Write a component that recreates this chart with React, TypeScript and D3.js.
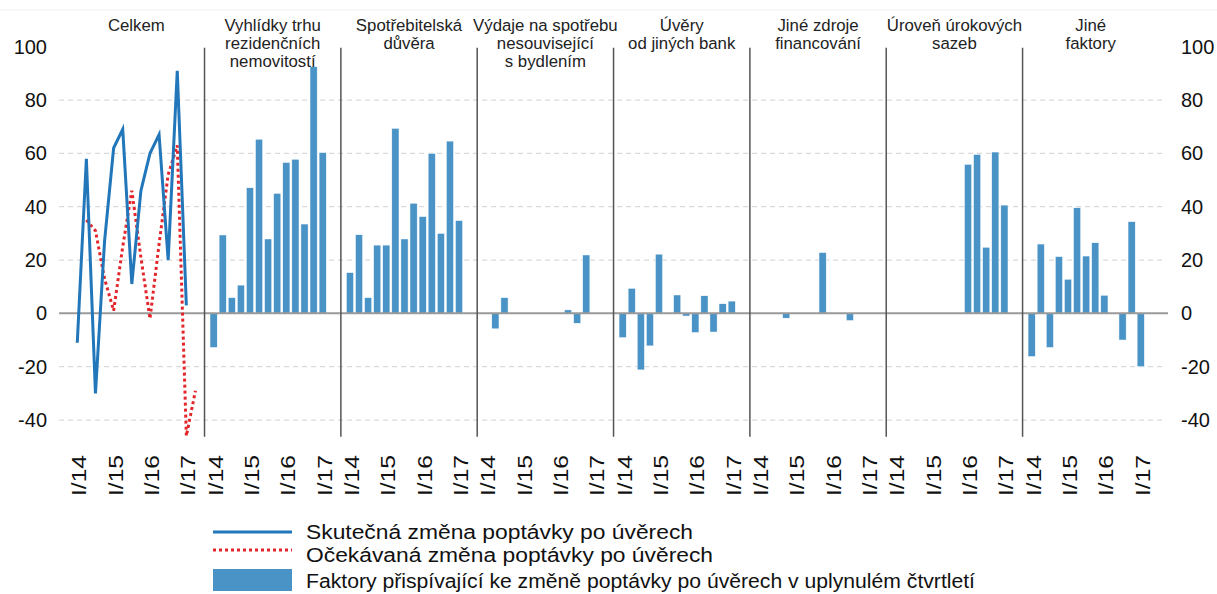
import React from 'react';
import * as d3 from 'd3';

// quarters shown in every panel (I/14 .. I/17)
const quarters = ['I/14', 'II/14', 'III/14', 'IV/14', 'I/15', 'II/15', 'III/15', 'IV/15', 'I/16', 'II/16', 'III/16', 'IV/16', 'I/17'];
const tickQuarters = ['I/14', 'I/15', 'I/16', 'I/17'];

const panelTitles = [
  ['Celkem'],
  ['Vyhlídky trhu', 'rezidenčních', 'nemovitostí'],
  ['Spotřebitelská', 'důvěra'],
  ['Výdaje na spotřebu', 'nesouvisející', 's bydlením'],
  ['Úvěry', 'od jiných bank'],
  ['Jiné zdroje', 'financování'],
  ['Úroveň úrokových', 'sazeb'],
  ['Jiné', 'faktory'],
];

// Celkem panel: actual change I/14..I/17, expected change II/14..II/17
const actualDemand = [-11, 58, -30, 27, 62, 69, 11, 46, 60, 67, 20, 91, 3];
const expectedDemand = [35, 31, 13, 1, 25, 46, 21, -2, 26, 52, 63, -46, -29];

// contributing factors, I/14..I/17
const housingOutlook = [-12.8, 29.4, 5.9, 10.6, 47.1, 65.3, 27.9, 45, 56.6, 57.8, 33.5, 92.5, 60.3];
const consumerConfidence = [15.3, 29.5, 5.9, 25.6, 25.6, 69.4, 27.9, 41.3, 36.3, 60, 30, 64.6, 34.8];
const nonHousingSpending = [0, -5.8, 5.9, 0, 0, 0, 0, 0, 0, 1.3, -3.7, 21.9, 0];
const otherBankLoans = [-9.1, 9.4, -21.2, -12.2, 22.2, 0, 6.9, -1.0, -7.2, 6.6, -7.0, 3.6, 4.6];
const otherFinancing = [0, 0, 0, -1.8, 0, 0, 0, 22.8, 0, 0, -2.7, 0, 0];
const interestRates = [0, 0, 0, 0, 0, 0, 0, 0, 55.9, 59.6, 24.8, 60.5, 40.6];
const otherFactors = [-16.2, 26, -12.8, 21.3, 12.8, 39.6, 21.5, 26.5, 6.8, 0, -10, 34.4, -20];

const factorSeries = [housingOutlook, consumerConfidence, nonHousingSpending, otherBankLoans, otherFinancing, interestRates, otherFactors];

const yTicks = [100, 80, 60, 40, 20, 0, -20, -40];
const legendLabels = [
  'Skutečná změna poptávky po úvěrech',
  'Očekávaná změna poptávky po úvěrech',
  'Faktory přispívající ke změně poptávky po úvěrech v uplynulém čtvrtletí',
];
const legendWidths = [387, 407, 669];

const W = 1217;
const H = 594;
const FONT = 'Liberation Sans, Arial, Helvetica, sans-serif';
const SLOTS_PER_PANEL = 15;
const BAR_COLOR = '#4a93c6';
const LINE_COLOR = '#2277ba';
const RED = '#e3262b';

// slot index of quarter q in panel p
const slotOf = (p: number, q: number) => p * SLOTS_PER_PANEL + 2 + q;

export default function App() {
  const x = d3.scaleLinear().domain([0, 122]).range([59.1, 1168]);
  const y = d3.scaleLinear().domain([-46.25, 100]).range([436.7, 46.7]);

  const line = d3.line<[number, number]>()
    .x(d => x(d[0]))
    .y(d => y(d[1]));

  const actualPts: [number, number][] = actualDemand.map((v, i) => [slotOf(0, i), v]);
  const expectedPts: [number, number][] = expectedDemand.map((v, i) => [slotOf(0, i + 1), v]);

  const barW = 7.2;

  return (
    <svg width={W} height={H} style={{ position: 'absolute', left: 0, top: 0, background: '#fff' }} fontFamily={FONT}>
      <line x1={0} x2={W} y1={10} y2={10} stroke="#f0f0f0" strokeWidth={1} />

      {/* gridlines */}
      {yTicks.filter(t => t !== 0 && t !== 100).map(t => (
        <line key={t} x1={x(0)} x2={x(122) - 2} y1={y(t)} y2={y(t)}
          stroke="#d9d9d9" strokeWidth={1.3} strokeDasharray="5,4" />
      ))}

      {/* bars */}
      {factorSeries.map((series, k) => series.map((v, q) => v === 0 ? null : (
        <rect key={`${k}-${q}`} x={x(slotOf(k + 1, q)) - barW / 2} width={barW}
          y={y(Math.max(0, v))} height={Math.abs(y(v) - y(0))}
          fill={BAR_COLOR} stroke="#ffffff" strokeWidth={0.5} />
      )))}

      {/* zero line */}
      <line x1={x(0)} x2={x(122)} y1={y(0)} y2={y(0)} stroke="#9a9a9a" strokeWidth={2} />

      {/* panel separators */}
      {d3.range(1, 8).map(p => (
        <line key={p} x1={x(p * SLOTS_PER_PANEL + 1)} x2={x(p * SLOTS_PER_PANEL + 1)}
          y1={y(100) + 1} y2={y(-46.25)} stroke="#555" strokeWidth={1.5} />
      ))}

      {/* lines of the first panel */}
      <path d={line(expectedPts) || ''} fill="none" stroke={RED} strokeWidth={3} strokeDasharray="3,3" />
      <path d={line(actualPts) || ''} fill="none" stroke={LINE_COLOR} strokeWidth={3} strokeLinejoin="miter" />

      {/* panel titles */}
      {panelTitles.map((lines, p) => {
        const cx = x(p * SLOTS_PER_PANEL + 1 + SLOTS_PER_PANEL / 2);
        return lines.map((t, i) => (
          <text key={`${p}-${i}`} x={cx} y={25 + i * 18 + 6} textAnchor="middle" fontSize={16.8} fill="#222">{t}</text>
        ));
      })}

      {/* y axes */}
      {yTicks.map(t => (
        <g key={t}>
          <text x={47} y={y(t) + 7} textAnchor="end" fontSize={20} fill="#111">{t}</text>
          <text x={1181} y={y(t) + 7} textAnchor="start" fontSize={20} fill="#111">{t}</text>
        </g>
      ))}

      {/* x tick labels */}
      {d3.range(8).map(p => tickQuarters.map(lbl => {
        const q = quarters.indexOf(lbl);
        const cx = x(slotOf(p, q)) + 1.5;
        return (
          <text key={`${p}-${lbl}`} transform={`translate(${cx},455) rotate(-90)`}
            textAnchor="end" dy="0.36em" fontSize={21} fill="#111"
            textLength={41} lengthAdjust="spacingAndGlyphs">{lbl}</text>
        );
      }))}

      {/* legend */}
      <line x1={213} x2={292} y1={532} y2={532} stroke={LINE_COLOR} strokeWidth={3} />
      <line x1={213} x2={292} y1={550} y2={550} stroke={RED} strokeWidth={3} strokeDasharray="3,3" />
      <rect x={213} y={569} width={79} height={22} fill={BAR_COLOR} />
      {legendLabels.map((t, i) => (
        <text key={t} x={306} y={[539, 562, 588][i]} fontSize={19.5} fill="#111"
          textLength={legendWidths[i]} lengthAdjust="spacingAndGlyphs">{t}</text>
      ))}
    </svg>
  );
}
